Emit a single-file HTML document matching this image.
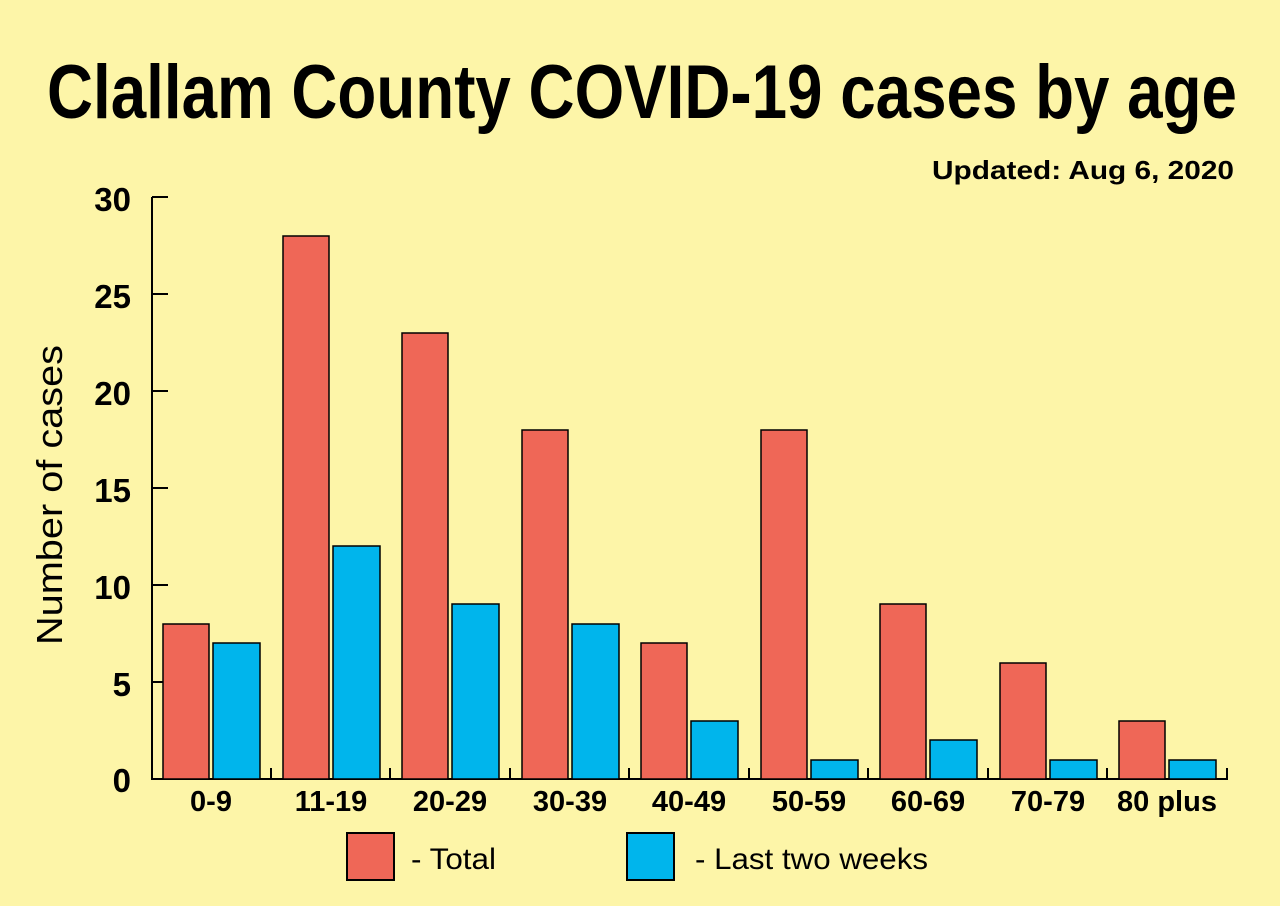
<!DOCTYPE html>
<html><head><meta charset="utf-8"><style>
html,body{margin:0;padding:0;background:#fdf5a8;}
svg{display:block;font-family:"Liberation Sans",sans-serif;}
</style></head><body>
<svg width="1280" height="906" viewBox="0 0 1280 906" xmlns="http://www.w3.org/2000/svg">
<rect width="1280" height="906" fill="#fdf5a8"/>
<text x="47" y="118" font-size="76" font-weight="bold" textLength="1190" lengthAdjust="spacingAndGlyphs" fill="#000">Clallam County COVID-19 cases by age</text>
<text x="932" y="179" font-size="26" font-weight="bold" textLength="302" lengthAdjust="spacingAndGlyphs" fill="#000">Updated: Aug 6, 2020</text>
<g font-size="33" font-weight="bold" text-anchor="end" fill="#000">
<text x="131" y="211">30</text><text x="131" y="308">25</text><text x="131" y="405">20</text>
<text x="131" y="502">15</text><text x="131" y="599">10</text><text x="131" y="696">5</text><text x="131" y="792">0</text>
</g>
<text transform="translate(62,495) rotate(-90)" font-size="36" text-anchor="middle" textLength="300" lengthAdjust="spacingAndGlyphs" fill="#000">Number of cases</text>
<g stroke="#000" stroke-width="2" fill="none">
<path d="M152,197 V779 H1228 M152,197 H168 M152,294 H168 M152,391 H168 M152,488 H168 M152,585 H168 M152,682 H168"/>
<path d="M271,779 v-11 M390,779 v-11 M510,779 v-11 M629,779 v-11 M749,779 v-11 M868,779 v-11 M988,779 v-11 M1107,779 v-11 M1227,779 v-11"/>
</g>
<g stroke="#000" stroke-width="1.5">
<rect x="163" y="624" width="46" height="155" fill="#ef6757"/>
<rect x="213" y="643" width="47" height="136" fill="#00b5ec"/>
<rect x="283" y="236" width="46" height="543" fill="#ef6757"/>
<rect x="333" y="546" width="47" height="233" fill="#00b5ec"/>
<rect x="402" y="333" width="46" height="446" fill="#ef6757"/>
<rect x="452" y="604" width="47" height="175" fill="#00b5ec"/>
<rect x="522" y="430" width="46" height="349" fill="#ef6757"/>
<rect x="572" y="624" width="47" height="155" fill="#00b5ec"/>
<rect x="641" y="643" width="46" height="136" fill="#ef6757"/>
<rect x="691" y="721" width="47" height="58" fill="#00b5ec"/>
<rect x="761" y="430" width="46" height="349" fill="#ef6757"/>
<rect x="811" y="760" width="47" height="19" fill="#00b5ec"/>
<rect x="880" y="604" width="46" height="175" fill="#ef6757"/>
<rect x="930" y="740" width="47" height="39" fill="#00b5ec"/>
<rect x="1000" y="663" width="46" height="116" fill="#ef6757"/>
<rect x="1050" y="760" width="47" height="19" fill="#00b5ec"/>
<rect x="1119" y="721" width="46" height="58" fill="#ef6757"/>
<rect x="1169" y="760" width="47" height="19" fill="#00b5ec"/>
</g>
<g font-size="29" font-weight="bold" text-anchor="middle" fill="#000">
<text x="211" y="811">0-9</text><text x="331" y="811">11-19</text><text x="450" y="811">20-29</text>
<text x="570" y="811">30-39</text><text x="689" y="811">40-49</text><text x="809" y="811">50-59</text>
<text x="928" y="811">60-69</text><text x="1048" y="811">70-79</text><text x="1167" y="811">80 plus</text>
</g>
<rect x="347" y="833" width="47" height="47" fill="#ef6757" stroke="#000" stroke-width="2"/>
<rect x="627" y="833" width="47" height="47" fill="#00b5ec" stroke="#000" stroke-width="2"/>
<text x="411" y="869" font-size="30" textLength="85" lengthAdjust="spacingAndGlyphs" fill="#000">- Total</text>
<text x="695" y="869" font-size="30" textLength="233" lengthAdjust="spacingAndGlyphs" fill="#000">- Last two weeks</text>
</svg>
</body></html>
